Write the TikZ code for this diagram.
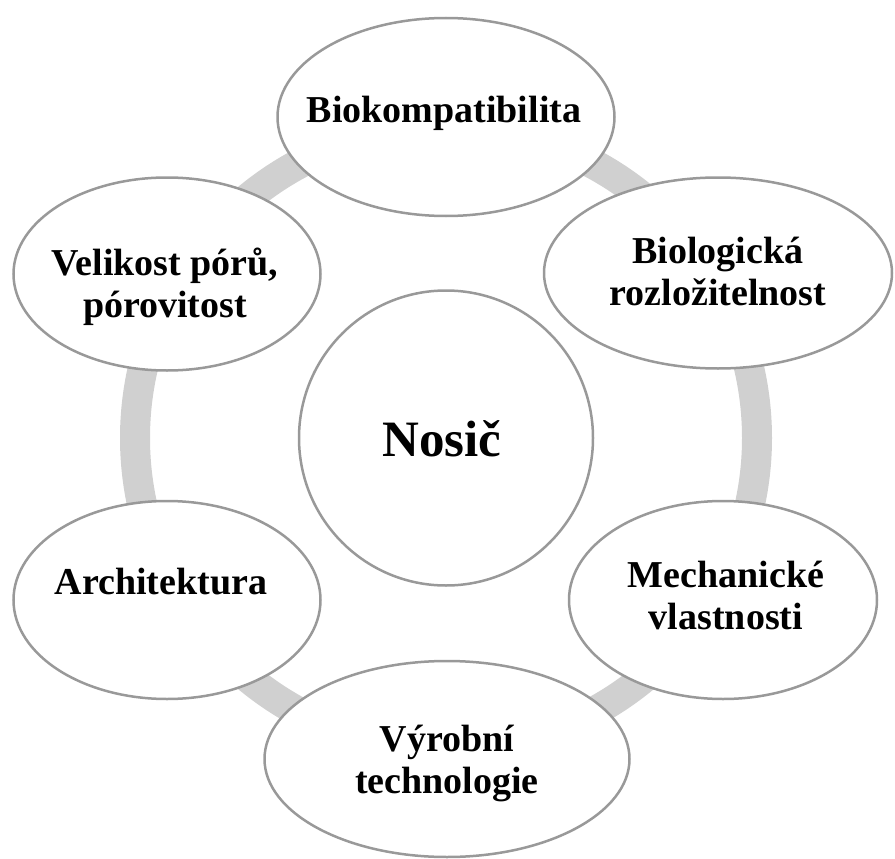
\documentclass[tikz,border=0pt]{standalone}
\usepackage{fontspec}
\setmainfont{Liberation Serif}
\usetikzlibrary{shapes.geometric}
\definecolor{ringgray}{HTML}{D0D0D0}
\definecolor{edgegray}{HTML}{999999}
\begin{document}
\begin{tikzpicture}[x=1pt,y=-1pt,
  bubble/.style={ellipse, draw=edgegray, line width=2.5pt, fill=white, inner sep=0pt},
  lbl/.style={inner sep=0pt, align=center, font=\fontsize{38}{42}\selectfont\bfseries},
  bigl/.style={inner sep=0pt, font=\fontsize{51}{56}\selectfont\bfseries}
]
\useasboundingbox (0,0) rectangle (895,859);
\coordinate (c) at (446,438);
\draw[ringgray, line width=30pt] (c) circle[radius=311pt];
% bubbles
\node[bubble, minimum width=337pt, minimum height=198pt] (bio) at (446,117) {};
\node[bubble, minimum width=348pt, minimum height=191pt] (deg) at (718,273) {};
\node[bubble, minimum width=308pt, minimum height=198pt] (mech) at (723,600) {};
\node[bubble, minimum width=365pt, minimum height=196pt] (vyr) at (447,759) {};
\node[bubble, minimum width=307pt, minimum height=198pt] (arch) at (167,600) {};
\node[bubble, minimum width=307pt, minimum height=193pt] (vel) at (167,274) {};
\node[bubble, minimum width=294pt, minimum height=295pt] (nos) at (446,438) {};
% texts
\node[lbl] (biot) at (444,113) {Biokompatibilita};
\node[lbl] (degt) at (718,271) {Biologická\\rozložitelnost};
\node[lbl] (mecht) at (726,595) {Mechanické\\vlastnosti};
\node[lbl] (vyrt) at (447,763) {Výrobní\\technologie};
\node[lbl] (archt) at (161,582) {Architektura};
\node[lbl] (velt) at (165,287) {Velikost pórů,\\pórovitost};
\node[bigl] (nost) at (442,439) {Nosič};
\end{tikzpicture}
\end{document}
